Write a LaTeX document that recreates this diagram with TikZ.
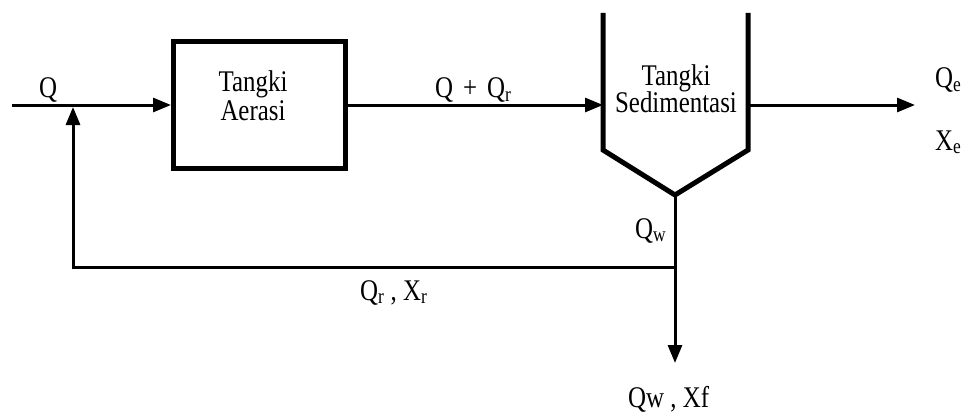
\documentclass[tikz,border=0pt]{standalone}
\usepackage{fontspec}
\newfontfamily\lblfont[FakeStretch=0.83]{Liberation Serif}
\usetikzlibrary{arrows.meta}
\begin{document}
\begin{tikzpicture}[x=1pt,y=-1pt,
  flow/.style={line width=3pt,-{Triangle[length=18pt,width=14pt]}},
  thick box/.style={draw,line width=5pt,minimum width=172pt,minimum height=127pt,inner sep=0pt},
  lbl/.style={font=\lblfont\fontsize{30}{30}\selectfont,inner sep=0pt}]
\useasboundingbox (0,0) rectangle (967,412);
% coordinates
\coordinate (in) at (12,105);
\coordinate (j) at (73,105);
\coordinate (jtip) at (73,107);
\coordinate (tl) at (603,13);
\coordinate (tbl) at (603,150);
\coordinate (tip) at (675,195);
\coordinate (tbr) at (748,150);
\coordinate (tr) at (748,13);
\coordinate (tin) at (603,105);
\coordinate (tout) at (748,105);
\coordinate (eff) at (915,105);
\coordinate (split) at (675,267);
\coordinate (rc) at (73,267);
\coordinate (waste) at (675,363);
% aeration tank
\node[thick box] (aer) at (259.5,105) {};
\node[lbl,anchor=base] (aer1) at (253,92) {Tangki};
\node[lbl,anchor=base] (aer2) at (253,121) {Aerasi};
% sedimentation tank
\draw[line width=5pt,line join=miter] (tl) -- (tbl) -- (tip) -- (tbr) -- (tr);
\node[lbl,anchor=base] (sed1) at (676,85) {Tangki};
\node[lbl,anchor=base] (sed2) at (676,113) {Sedimentasi};
% connectors
\draw[flow] (in) -- (aer.west);
\draw[flow] (aer.east) -- (tin);
\draw[flow] (tout) -- (eff);
\draw[flow] (tip) -- (waste);
\draw[flow] (split) -- (rc) -- (jtip);
% labels
\node[lbl,anchor=base] (lq) at (48,97) {Q};
\node[lbl,anchor=base west] (lqqr) at (435,98) {Q\,\,+\,\,Q\textsubscript{r}};
\node[lbl,anchor=base west] (lqe) at (935,88) {Q\textsubscript{e}};
\node[lbl,anchor=base west] (lxe) at (935,150) {X\textsubscript{e}};
\node[lbl,anchor=base west] (lqw) at (635,238) {Q\textsubscript{w}};
\node[lbl,anchor=base west] (lqrxr) at (360,300) {Q\textsubscript{r} , X\textsubscript{r}};
\node[lbl,anchor=base west] (lqwxf) at (628,407) {Qw , Xf};
\end{tikzpicture}
\end{document}
